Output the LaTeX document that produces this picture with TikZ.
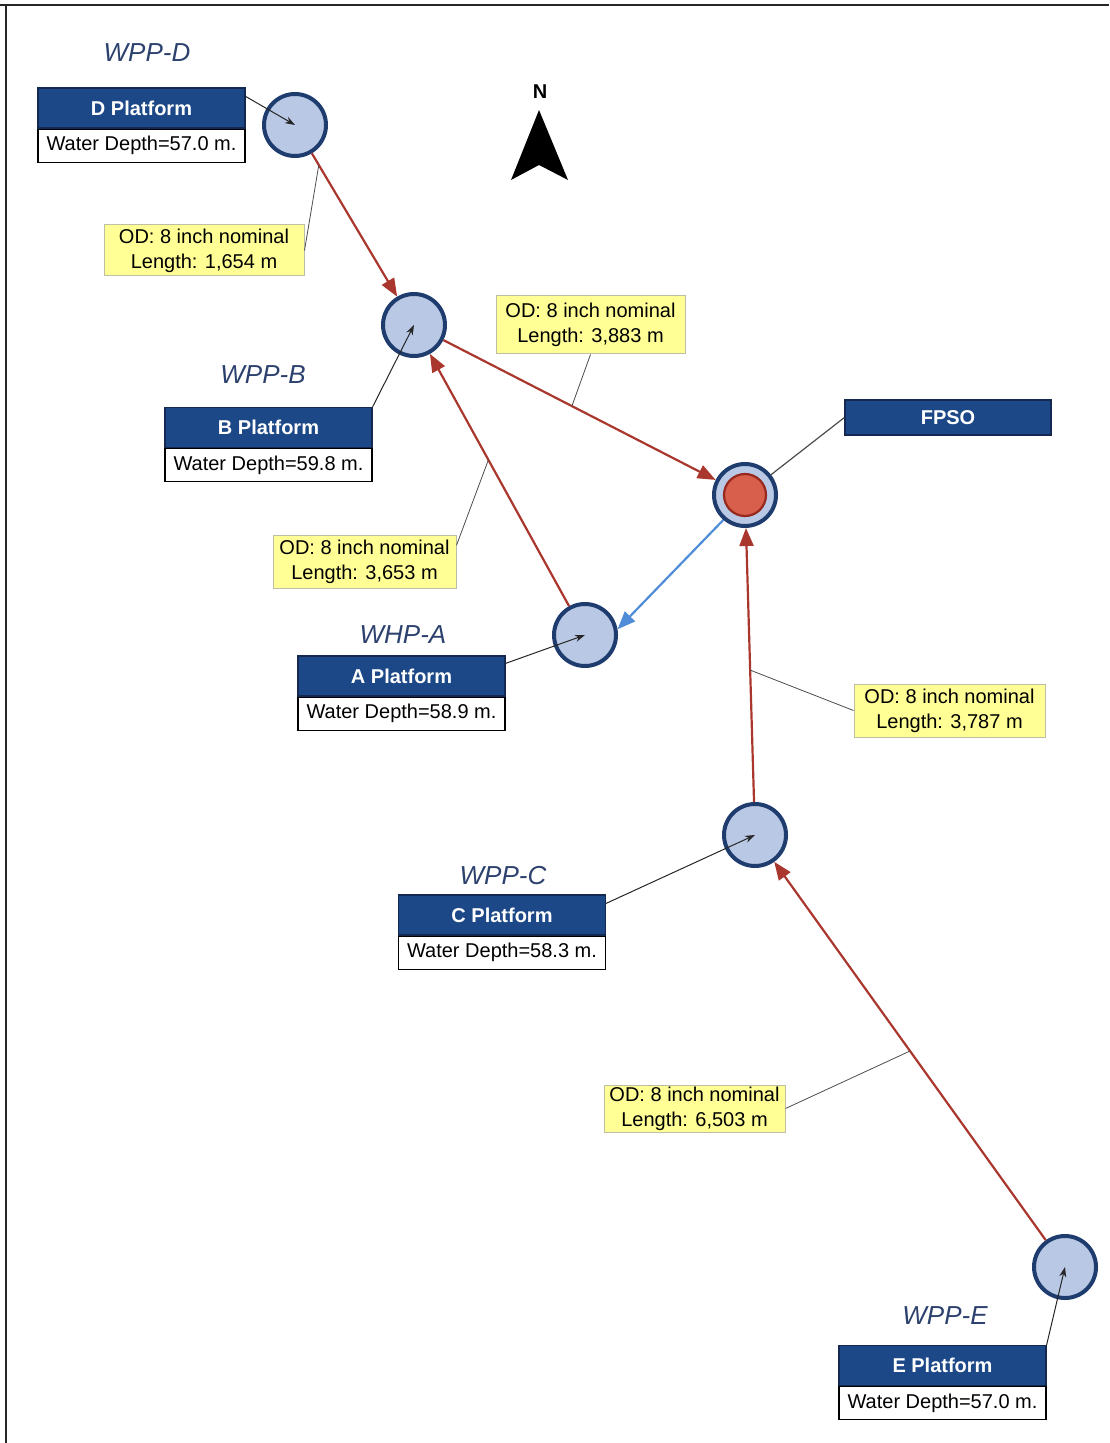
\documentclass[tikz,border=0pt]{standalone}
\usepackage{fontspec}
\setmainfont{Liberation Sans}
\usetikzlibrary{arrows.meta,calc}

\definecolor{hdrblue}{RGB}{28,72,135}
\definecolor{hdrline}{RGB}{20,40,80}
\definecolor{titleblue}{RGB}{45,65,110}
\definecolor{ringblue}{RGB}{30,60,110}
\definecolor{platfill}{RGB}{185,200,228}
\definecolor{pipered}{RGB}{170,55,45}
\definecolor{flowblue}{RGB}{80,140,215}
\definecolor{fpsored}{RGB}{215,95,75}
\definecolor{fpsoedge}{RGB}{150,40,30}
\definecolor{noteyel}{RGB}{255,255,150}
\definecolor{notebd}{RGB}{190,190,165}

\begin{document}
\begin{tikzpicture}[x=0.5pt,y=-0.5pt,
  plat/.style={circle, draw=ringblue, line width=2pt, fill=platfill,
    minimum size=31pt, inner sep=0pt},
  core/.style={circle, draw=fpsoedge, line width=1.1pt, fill=fpsored,
    minimum size=21pt, inner sep=0pt},
  hdr/.style={rectangle, draw=hdrline, fill=hdrblue, text=white,
    font=\bfseries\fontsize{10}{12}\selectfont, minimum width=103.5pt,
    minimum height=20pt, inner sep=0pt, line width=0.6pt},
  depth/.style={rectangle, draw=black, fill=white,
    font=\fontsize{10}{12}\selectfont, minimum width=103.5pt,
    minimum height=16.5pt, inner sep=0pt, anchor=north, line width=0.6pt},
  title/.style={font=\itshape\fontsize{13}{15}\selectfont, text=titleblue},
  note/.style={rectangle, draw=notebd, fill=noteyel,
    font=\fontsize{10}{12.5}\selectfont, align=center, inner sep=0pt,
    line width=0.5pt},
  pipe/.style={draw=pipered, line width=1.1pt,
    -{Triangle[length=9pt,width=7pt]}},
  lead/.style={draw=black!85, line width=0.5pt,
    -{Stealth[length=5pt,width=3.5pt]}},
  tie/.style={draw=black!70, line width=0.4pt}]

\useasboundingbox (0,0) rectangle (1109,1443);

% frame lines along the top and left edge
\draw[black!85, line width=1pt] (0,5) -- (1109,5);
\draw[black!85, line width=1pt] (6,5) -- (6,1443);

% north arrow
\node[font=\bfseries\fontsize{10}{12}\selectfont] (north) at (540,92) {N};
\fill[black] (539,110) -- (568,180) -- (539,165) -- (511,180) -- cycle;

% platform locations
\node[plat] (d) at (295,125) {};
\node[plat] (b) at (414,325) {};
\node[plat] (a) at (585,635) {};
\node[plat] (c) at (755,835) {};
\node[plat] (e) at (1065,1267) {};
\node[plat] (f) at (745,495) {};
\node[core] (fcore) at (f) {};

% platform titles
\node[title] (td) at (147,53) {WPP-D};
\node[title] (tb) at (263,375) {WPP-B};
\node[title] (ta) at (403,635) {WHP-A};
\node[title] (tc) at (503,876) {WPP-C};
\node[title] (te) at (945,1316) {WPP-E};

% platform cards
\node[hdr] (dh) at (141.5,108) {D Platform};
\node[depth] (dd) at (dh.south) {Water Depth=57.0 m.};
\node[hdr] (bh) at (268.5,427.5) {B Platform};
\node[depth] (bd) at (bh.south) {Water Depth=59.8 m.};
\node[hdr] (ah) at (401.5,676) {A Platform};
\node[depth] (ad) at (ah.south) {Water Depth=58.9 m.};
\node[hdr] (ch) at (502,915) {C Platform};
\node[depth] (cd) at (ch.south) {Water Depth=58.3 m.};
\node[hdr] (eh) at (942.5,1365.5) {E Platform};
\node[depth] (ed) at (eh.south) {Water Depth=57.0 m.};
\node[hdr, minimum width=103pt, minimum height=17.5pt] (fh) at (948,417.5) {FPSO};

% pipelines
\draw[pipe] (d) -- (b);
\draw[pipe] (b) -- (f);
\draw[pipe] (a) -- (b);
\draw[pipe] (c) -- (f);
\draw[pipe] (e) -- (c);
\draw[pipe, draw=flowblue] (f.229) -- (a.10);

% card pointers
\draw[lead] ($(dh.north east)+(0,9)$) -- (d.center);
\draw[lead] (bh.north east) -- (b.center);
\draw[lead] ($(ah.north east)+(0,8)$) -- (a.center);
\draw[lead] ($(ch.north east)+(0,9)$) -- (c.center);
\draw[lead] (eh.north east) -- (e.center);
\draw[tie, line width=0.6pt] (fh.west) -- (f);

% pipeline notes
\node[note, minimum width=100pt, minimum height=25.5pt] (l1) at (204,250.5)
  {OD: 8 inch nominal\\Length: 1,654 m};
\node[note, minimum width=94.5pt, minimum height=29pt] (l2) at (590.5,325)
  {OD: 8 inch nominal\\Length: 3,883 m};
\node[note, minimum width=91.5pt, minimum height=26.5pt] (l3) at (364.5,561.5)
  {OD: 8 inch nominal\\Length: 3,653 m};
\node[note, minimum width=95.5pt, minimum height=26.5pt] (l4) at (949.5,710.5)
  {OD: 8 inch nominal\\Length: 3,787 m};
\node[note, minimum width=90.5pt, minimum height=23.5pt] (l5) at (694.5,1108.5)
  {OD: 8 inch nominal\\Length: 6,503 m};

% note ties to their pipelines
\coordinate (k1) at ($(d)!0.2!(b)$);
\coordinate (k2) at ($(b)!0.477!(f)$);
\coordinate (k3) at ($(a)!0.565!(b)$);
\coordinate (k4) at ($(c)!0.485!(f)$);
\coordinate (k5) at ($(e)!0.5!(c)$);
\draw[tie] (l1.east) -- (k1);
\draw[tie] (l2.south) -- (k2);
\draw[tie] (l3.10) -- (k3);
\draw[tie] (l4.west) -- (k4);
\draw[tie] (l5.east) -- (k5);

\end{tikzpicture}
\end{document}
